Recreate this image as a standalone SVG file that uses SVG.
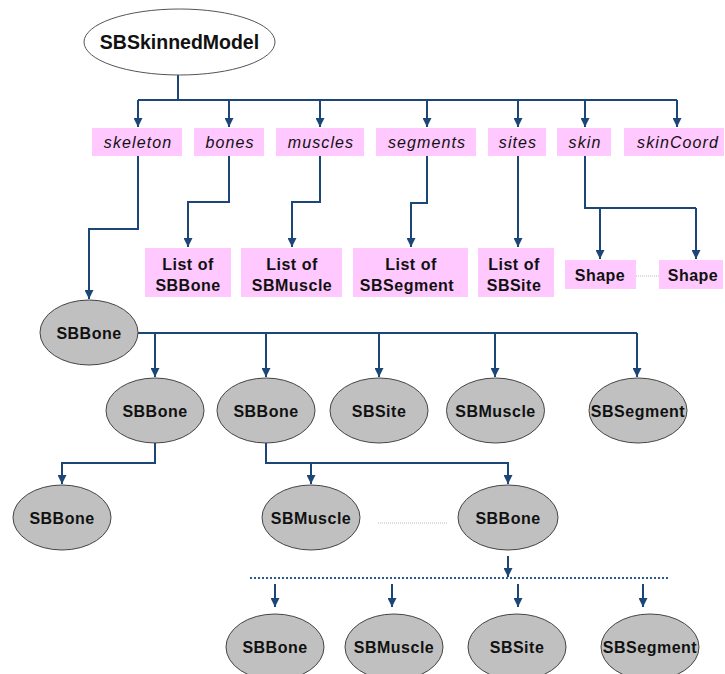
<svg xmlns="http://www.w3.org/2000/svg" width="725" height="674" viewBox="0 0 725 674">
<defs>
<marker id="arr" viewBox="0 0 10 10" refX="10" refY="5" markerWidth="9" markerHeight="9" markerUnits="userSpaceOnUse" orient="auto">
<path d="M0,0 L10,5 L0,10 z" fill="#1b4677"/>
</marker>
<style>
.c{fill:none;stroke:#1b4677;stroke-width:2}
.a{marker-end:url(#arr)}
.pk{fill:#ffc8ff}
.lbl{font-family:"Liberation Sans",Arial,sans-serif;font-style:italic;font-size:16px;letter-spacing:1.1px;fill:#111;text-anchor:middle}
.t{font-family:"Liberation Sans",Arial,sans-serif;font-weight:bold;font-size:16px;letter-spacing:0.5px;fill:#111;text-anchor:middle}
.g{fill:#c0c0c0;stroke:#444;stroke-width:1}
.dg{fill:none;stroke:#bbb;stroke-width:1;stroke-dasharray:1,1}
</style>
</defs>
<rect width="725" height="674" fill="#fff"/>

<g id="connectors">
<path class="c" d="M178,75 V100 M138,100 H677" stroke-width="2.5"/>
<path class="c a" d="M138,100 V127"/>
<path class="c a" d="M229,100 V127"/>
<path class="c a" d="M320,100 V127"/>
<path class="c a" d="M427,100 V127"/>
<path class="c a" d="M518,100 V127"/>
<path class="c a" d="M585,100 V127"/>
<path class="c a" d="M677,100 V127"/>
<path class="c a" d="M138,156 V229 H89 V299"/>
<path class="c a" d="M229,156 V202 H188 V247"/>
<path class="c a" d="M320,156 V202 H292 V247"/>
<path class="c a" d="M427,156 V203 H411 V247"/>
<path class="c a" d="M518,156 V247"/>
<path class="c" d="M585,156 V208 H696"/>
<path class="c a" d="M600,208 V259"/>
<path class="c a" d="M696,208 V259"/>
<path class="dg" d="M636,276 H659"/>
<path class="c" d="M138,333 H637"/>
<path class="c a" d="M155,333 V377"/>
<path class="c a" d="M266,333 V377"/>
<path class="c a" d="M379,333 V377"/>
<path class="c a" d="M495,333 V377"/>
<path class="c a" d="M637,333 V377"/>
<path class="c a" d="M155,443 V463 H62 V484"/>
<path class="c a" d="M266,443 V463 H508 V484"/>
<path class="c a" d="M311,463 V484"/>
<path class="dg" d="M378,523 H447"/>
<path class="c a" d="M508,556 V577" stroke-width="1.6"/>
<path d="M250,578 H670" fill="none" stroke="#2a5a8a" stroke-width="2" stroke-dasharray="2,2"/>
<path class="c a" d="M275,584 V607" stroke-width="1.6"/>
<path class="c a" d="M392,584 V607" stroke-width="1.6"/>
<path class="c a" d="M518,584 V607" stroke-width="1.6"/>
<path class="c a" d="M643,584 V607" stroke-width="1.6"/>
</g>

<g id="SBSkinnedModel">
<ellipse cx="179.5" cy="42" rx="95.5" ry="33" fill="#fff" stroke="#555" stroke-width="1"/>
<text x="179.5" y="49" font-family="Liberation Sans, Arial, sans-serif" font-weight="bold" font-size="19.5" text-anchor="middle" fill="#111">SBSkinnedModel</text>
</g>

<g id="skeleton"><rect class="pk" x="92" y="128" width="90" height="28"/><text class="lbl" x="138" y="148">skeleton</text></g>
<g id="bones"><rect class="pk" x="194" y="128" width="70" height="28"/><text class="lbl" x="230" y="148">bones</text></g>
<g id="muscles"><rect class="pk" x="276" y="128" width="88" height="28"/><text class="lbl" x="321" y="148">muscles</text></g>
<g id="segments"><rect class="pk" x="376" y="128" width="100" height="28"/><text class="lbl" x="427" y="148">segments</text></g>
<g id="sites"><rect class="pk" x="488" y="128" width="58" height="28"/><text class="lbl" x="518" y="148">sites</text></g>
<g id="skin"><rect class="pk" x="557" y="128" width="54" height="28"/><text class="lbl" x="585" y="148">skin</text></g>
<g id="skinCoord"><rect class="pk" x="624" y="128" width="100" height="28"/><text class="lbl" x="678" y="148">skinCoord</text></g>

<g id="listSBBone"><rect class="pk" x="145" y="248" width="86" height="49"/><text class="t" x="188" y="270">List of</text><text class="t" x="188" y="291">SBBone</text></g>
<g id="listSBMuscle"><rect class="pk" x="241" y="248" width="101" height="49"/><text class="t" x="292" y="270">List of</text><text class="t" x="292" y="291">SBMuscle</text></g>
<g id="listSBSegment"><rect class="pk" x="353" y="248" width="115" height="49"/><text class="t" x="411" y="270">List of</text><text class="t" x="407" y="291">SBSegment</text></g>
<g id="listSBSite"><rect class="pk" x="478" y="248" width="76" height="49"/><text class="t" x="514" y="270">List of</text><text class="t" x="514" y="291">SBSite</text></g>
<g id="shape1"><rect class="pk" x="565" y="260" width="71" height="29"/><text class="t" x="600" y="281">Shape</text></g>
<g id="shape2"><rect class="pk" x="659" y="260" width="64" height="29"/><text class="t" x="693" y="281">Shape</text></g>

<g id="boneRoot"><ellipse class="g" cx="89" cy="332.5" rx="49" ry="32.5"/><text class="t" x="89" y="338.5">SBBone</text></g>
<g id="bone1"><ellipse class="g" cx="155" cy="410.5" rx="49" ry="32.5"/><text class="t" x="155" y="416.5">SBBone</text></g>
<g id="bone2"><ellipse class="g" cx="266" cy="410.5" rx="49" ry="32.5"/><text class="t" x="266" y="416.5">SBBone</text></g>
<g id="site1"><ellipse class="g" cx="379" cy="410.5" rx="49" ry="32.5"/><text class="t" x="379" y="416.5">SBSite</text></g>
<g id="muscle1"><ellipse class="g" cx="495.5" cy="410.5" rx="49" ry="32.5"/><text class="t" x="495.5" y="416.5">SBMuscle</text></g>
<g id="segment1"><ellipse class="g" cx="638" cy="410.5" rx="49" ry="32.5"/><text class="t" x="638" y="416.5">SBSegment</text></g>

<g id="bone3"><ellipse class="g" cx="62" cy="517.5" rx="49" ry="32.5"/><text class="t" x="62" y="523.5">SBBone</text></g>
<g id="muscle2"><ellipse class="g" cx="311" cy="517.5" rx="49" ry="32.5"/><text class="t" x="311" y="523.5">SBMuscle</text></g>
<g id="bone4"><ellipse class="g" cx="508" cy="517.5" rx="50" ry="32.5"/><text class="t" x="508" y="523.5">SBBone</text></g>

<g id="bone5"><ellipse class="g" cx="275" cy="647" rx="49" ry="33"/><text class="t" x="275" y="653">SBBone</text></g>
<g id="muscle3"><ellipse class="g" cx="394" cy="647" rx="49" ry="33"/><text class="t" x="394" y="653">SBMuscle</text></g>
<g id="site2"><ellipse class="g" cx="517" cy="647" rx="49" ry="33"/><text class="t" x="517" y="653">SBSite</text></g>
<g id="segment2"><ellipse class="g" cx="650" cy="647" rx="49" ry="33"/><text class="t" x="650" y="653">SBSegment</text></g>
</svg>
